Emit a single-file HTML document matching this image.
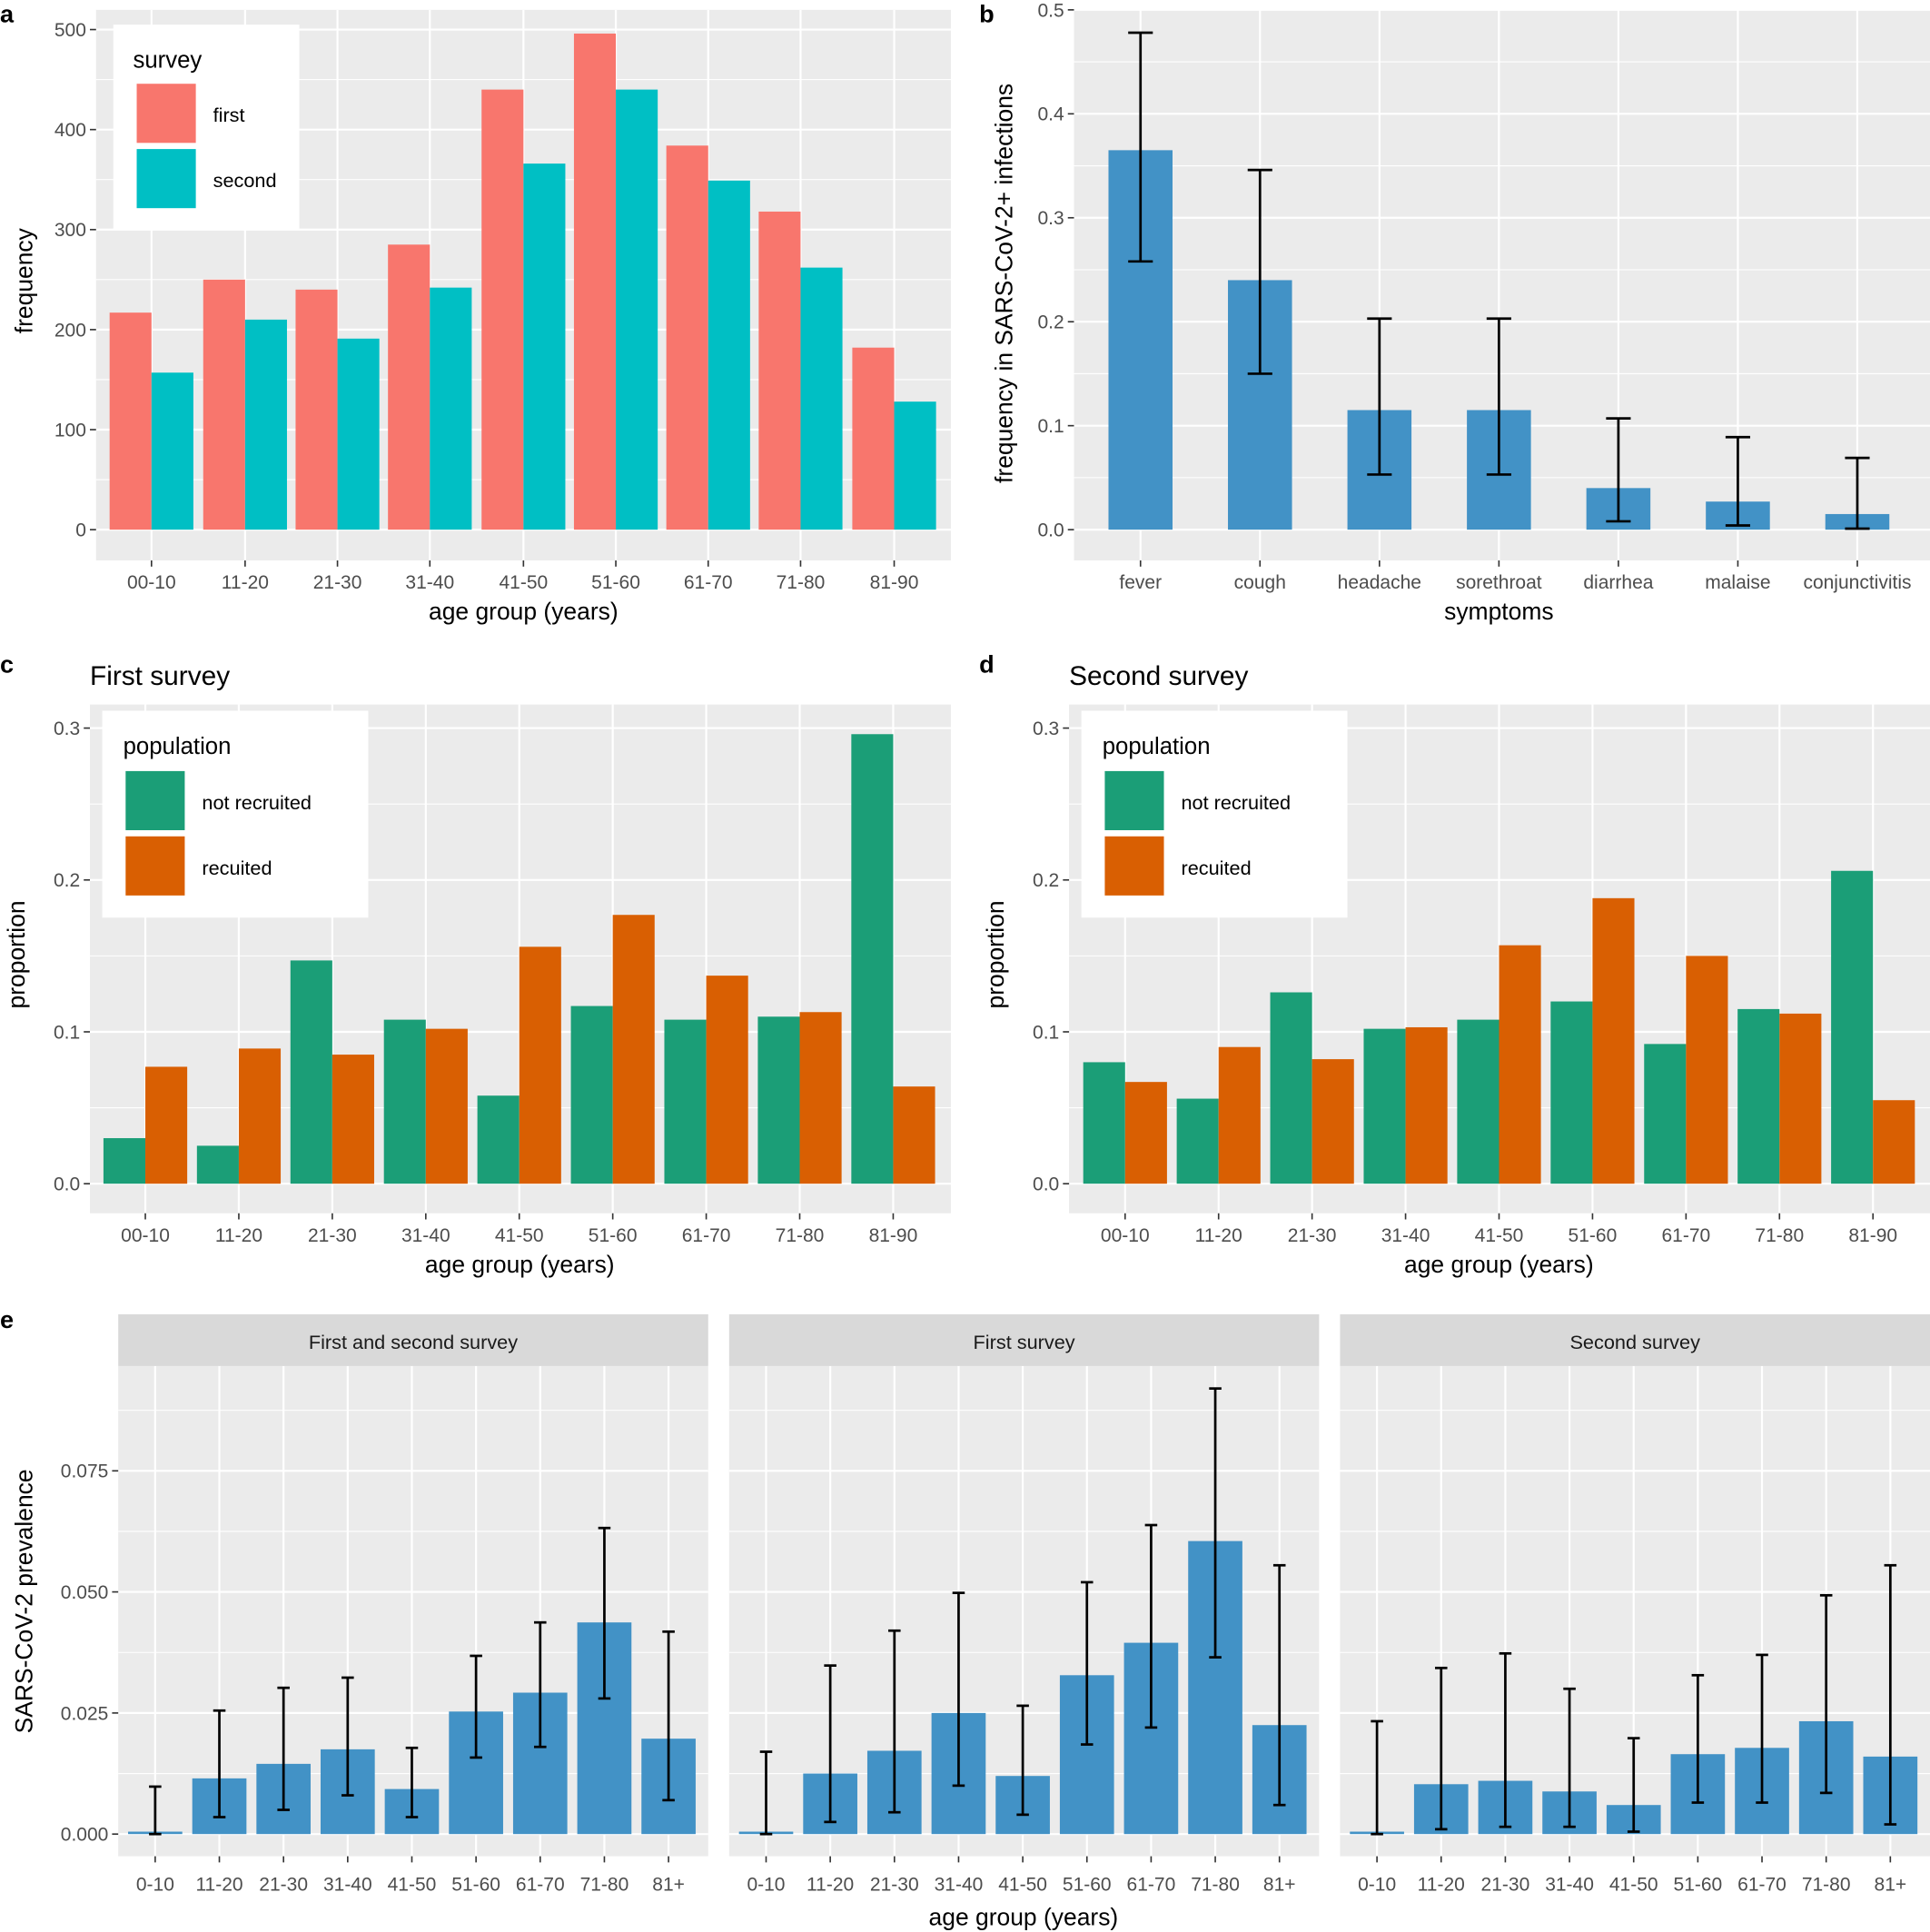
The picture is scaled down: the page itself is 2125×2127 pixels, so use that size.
<!DOCTYPE html>
<html><head><meta charset="utf-8"><style>
html,body{margin:0;padding:0;background:#fff;}
svg{display:block;font-family:"Liberation Sans",Arial,sans-serif;}
</style></head><body>
<svg id="s" width="2125" height="2127" viewBox="0 0 1567 1568.5" preserveAspectRatio="none" xmlns="http://www.w3.org/2000/svg"></svg>
<script>
var o='';
function R(x,y,w,h,f,ex){o+='<rect x="'+x+'" y="'+y+'" width="'+w+'" height="'+h+'" fill="'+f+'" '+(ex||'')+'/>';}
function L(x1,y1,x2,y2,c,w){o+='<line x1="'+x1+'" y1="'+y1+'" x2="'+x2+'" y2="'+y2+'" stroke="'+c+'" stroke-width="'+w+'"/>';}
function T(x,y,t,sz,a,c,ex){o+='<text x="'+x+'" y="'+y+'" font-size="'+sz+'" text-anchor="'+(a||'start')+'" fill="'+(c||'#000')+'" '+(ex||'')+'>'+t+'</text>';}
function panel(p){
 R(p.x0,p.y0,p.x1-p.x0,p.y1-p.y0,'#ebebeb');
 var Y=function(v){return p.z-(v/p.step)*p.px;};
 for(var i=0;i<p.n-0.01;i++){var v=(i+0.5)*p.step;var y=Y(v);if(y>p.y0)L(p.x0,y,p.x1,y,'#fff',0.8);}
 for(var i=0;i<p.n;i++){L(p.x0,Y(i*p.step),p.x1,Y(i*p.step),'#fff',1.6);}
 for(var i=0;i<p.xs.length;i++){L(p.xs[i],p.y0,p.xs[i],p.y1,'#fff',1.6);}
 for(var i=0;i<p.n;i++){var v=i*p.step;var y=Y(v);if(p.yl){L(p.x0-5,y,p.x0,y,'#333',1.2);T(p.x0-8,y+5.5,p.fmt(v),15.5,'end','#4d4d4d');}}
 var lo=p.lo||23;
 for(var i=0;i<p.xs.length;i++){L(p.xs[i],p.y1,p.xs[i],p.y1+5,'#333',1.2);T(p.xs[i],p.y1+lo,p.lab[i],15.5,'middle','#4d4d4d');}
 return Y;
}
function fmt1(v){return Math.round(v).toString();}
function fmtd(d){return function(v){return v.toFixed(d);};}
var ages=['00-10','11-20','21-30','31-40','41-50','51-60','61-70','71-80','81-90'];
(function(){
 var xs=[123,199,274,349,425,500,575,650,726];
 var Y=panel({x0:78,x1:772,y0:8,y1:455,z:430,px:81.2,step:100,n:6,xs:xs,lab:ages,fmt:fmt1,yl:1});
 var f=[217,250,240,285,440,496,384,318,182],s=[157,210,191,242,366,440,349,262,128];
 for(var i=0;i<9;i++){R(xs[i]-34,Y(f[i]),34,430-Y(f[i]),'#f8766d');R(xs[i],Y(s[i]),34,430-Y(s[i]),'#00bfc4');}
 R(92,20,151,167,'#fff');T(108,55,'survey',19);R(111,68,48,48,'#f8766d');R(111,121,48,48,'#00bfc4');
 T(173,99,'first',16);T(173,152,'second',16);
 T(425,503,'age group (years)',19.5,'middle');
 T(0,0,'frequency',19.5,'middle','#000','transform="translate(26,228) rotate(-90)"');
 T(0,18,'a',20,'start','#000','font-weight="bold"');
})();
(function(){
 var xs=[926,1023,1120,1217,1314,1411,1508];
 var lab=['fever','cough','headache','sorethroat','diarrhea','malaise','conjunctivitis'];
 var Y=panel({x0:872,x1:1567,y0:8,y1:455,z:430,px:84.4,step:0.1,n:6,xs:xs,lab:lab,fmt:fmtd(1),yl:1});
 var v=[0.365,0.24,0.115,0.115,0.04,0.027,0.015];
 var e=[[0.258,0.478],[0.15,0.346],[0.053,0.203],[0.053,0.203],[0.008,0.107],[0.004,0.089],[0.001,0.069]];
 for(var i=0;i<7;i++){R(xs[i]-26,Y(v[i]),52,430-Y(v[i]),'#4292c6');
  L(xs[i],Y(e[i][0]),xs[i],Y(e[i][1]),'#000',2);L(xs[i]-10,Y(e[i][0]),xs[i]+10,Y(e[i][0]),'#000',2);L(xs[i]-10,Y(e[i][1]),xs[i]+10,Y(e[i][1]),'#000',2);}
 T(1217,503,'symptoms',19.5,'middle');
 T(0,0,'frequency in SARS-CoV-2+ infections',19.5,'middle','#000','transform="translate(822,230) rotate(-90)"');
 T(795,18,'b',20,'start','#000','font-weight="bold"');
})();
function cd(x0,off,g,r,title,letter){
 var xs=[];for(var i=0;i<9;i++)xs.push(118+off+i*75.9);
 var Y=panel({x0:x0,x1:x0+699,y0:572,y1:985,z:961,px:123.3,step:0.1,n:4,xs:xs,lab:ages,fmt:fmtd(1),yl:1});
 for(var i=0;i<9;i++){R(xs[i]-34,Y(g[i]),34,961-Y(g[i]),'#1b9e77');R(xs[i],Y(r[i]),34,961-Y(r[i]),'#d95f02');}
 var lx=x0+10;
 R(lx,577,216,168,'#fff');T(lx+17,612,'population',19);R(lx+19,626,48,48,'#1b9e77');R(lx+19,679,48,48,'#d95f02');
 T(lx+81,657,'not recruited',16);T(lx+81,710,'recuited',16);
 T(x0+349,1033,'age group (years)',19.5,'middle');
 T(0,0,'proportion',19.5,'middle','#000','transform="translate('+(x0-53)+',775) rotate(-90)"');
 T(x0,556,title,22);
 T(letter[1],546,letter[0],20,'start','#000','font-weight="bold"');
}
cd(73,0,[0.030,0.025,0.147,0.108,0.058,0.117,0.108,0.110,0.296],[0.077,0.089,0.085,0.102,0.156,0.177,0.137,0.113,0.064],'First survey',['c',0]);
cd(868,795.5,[0.080,0.056,0.126,0.102,0.108,0.120,0.092,0.115,0.206],[0.067,0.090,0.082,0.103,0.157,0.188,0.150,0.112,0.055],'Second survey',['d',795]);
(function(){
 var labs=['0-10','11-20','21-30','31-40','41-50','51-60','61-70','71-80','81+'];
 var titles=['First and second survey','First survey','Second survey'];
 var V=[[0.0005,0.0115,0.0145,0.0175,0.0093,0.0253,0.0292,0.0437,0.0197],
 [0.0005,0.0125,0.0172,0.025,0.012,0.0328,0.0395,0.0605,0.0225],
 [0.0005,0.0103,0.011,0.0088,0.006,0.0165,0.0178,0.0233,0.016]];
 var E=[[[0,0.0098],[0.0035,0.0255],[0.005,0.0302],[0.008,0.0323],[0.0035,0.0178],[0.0158,0.0368],[0.018,0.0437],[0.028,0.0632],[0.007,0.0418]],
 [[0,0.017],[0.0025,0.0348],[0.0045,0.042],[0.01,0.0498],[0.004,0.0265],[0.0185,0.052],[0.022,0.0638],[0.0365,0.092],[0.006,0.0555]],
 [[0,0.0233],[0.001,0.0343],[0.0015,0.0373],[0.0015,0.03],[0.0005,0.0198],[0.0065,0.0328],[0.0065,0.037],[0.0085,0.0493],[0.002,0.0555]]];
 for(var f=0;f<3;f++){
  var x0=96+f*496,xs=[];for(var i=0;i<9;i++)xs.push(126+f*496+i*52.1);
  var Y=panel({x0:x0,x1:x0+479,y0:1109,y1:1507,z:1489,px:98.3,step:0.025,n:4,xs:xs,lab:labs,fmt:fmtd(3),yl:f==0,lo:28});
  R(x0,1067,479,42,'#d9d9d9');T(x0+239.5,1095,titles[f],16,'middle','#1a1a1a');
  for(var i=0;i<9;i++){var v=V[f][i],e=E[f][i];R(xs[i]-22,Y(v),44,1489-Y(v),'#4292c6');
   L(xs[i],Y(e[0]),xs[i],Y(e[1]),'#000',2);L(xs[i]-5,Y(e[0]),xs[i]+5,Y(e[0]),'#000',2);L(xs[i]-5,Y(e[1]),xs[i]+5,Y(e[1]),'#000',2);}
 }
 T(831,1563,'age group (years)',19.5,'middle');
 T(0,0,'SARS-CoV-2 prevalence',19.5,'middle','#000','transform="translate(26,1300) rotate(-90)"');
 T(0,1078,'e',20,'start','#000','font-weight="bold"');
})();
document.getElementById('s').innerHTML=o;
</script>
</body></html>
